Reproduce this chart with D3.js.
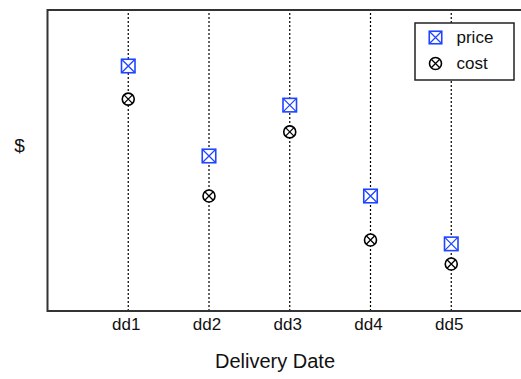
<!DOCTYPE html>
<html><head><meta charset="utf-8">
<script src="https://cdn.jsdelivr.net/npm/d3@7"></script>
<style>body{margin:0;background:#fff;} svg{display:block;}</style>
</head><body>
<script>
const categories = ["dd1","dd2","dd3","dd4","dd5"];
const priceValues = [81.4, 51.5, 68.4, 38.2, 22.3];
const costValues  = [70.4, 38.2, 59.5, 23.6, 15.6];
const seriesNames = ["price","cost"];

const W = 521, H = 379;
const FONT = "Liberation Sans, Arial, Helvetica, sans-serif";
const svg = d3.select("body").append("svg").attr("width",W).attr("height",H);

const x = d3.scaleLinear().domain([0, categories.length+1]).range([47.5, 532]);
const y = d3.scaleLinear().domain([0,100]).range([311, 10]);

const g = svg.append("g");

// gridlines
g.selectAll("line.grid").data(categories).join("line")
  .attr("x1",(d,i)=>x(i+1)).attr("x2",(d,i)=>x(i+1))
  .attr("y1",y(0)).attr("y2",y(100))
  .attr("stroke","#000").attr("stroke-width",1.2).attr("stroke-dasharray","2,2");

// axis tick labels
const xAxis = d3.axisBottom(x).tickValues(d3.range(1,categories.length+1))
  .tickFormat(d=>categories[d-1]).tickSize(0).tickPadding(7);
const ax = svg.append("g").attr("transform",`translate(0,${y(0)})`).call(xAxis);
ax.select(".domain").remove();
ax.selectAll("text").attr("font-family",FONT).attr("font-size",17).attr("fill","#111")
  .attr("dx","-0.15em");

// frame
svg.append("rect").attr("x",x(0)).attr("y",y(100)).attr("width",x(categories.length+1)-x(0)).attr("height",y(0)-y(100))
  .attr("fill","none").attr("stroke","#333").attr("stroke-width",2);

const blue = "#1f45ff";
function squareX(sel, s){
  sel.append("rect").attr("x",-s/2).attr("y",-s/2).attr("width",s).attr("height",s)
    .attr("fill","#fff").attr("stroke",blue).attr("stroke-width",1.6);
  sel.append("path").attr("d",`M${-s/2},${-s/2}L${s/2},${s/2}M${s/2},${-s/2}L${-s/2},${s/2}`)
    .attr("stroke",blue).attr("stroke-width",1.3);
}
function circleX(sel, r){
  sel.append("circle").attr("r",r).attr("fill","#fff").attr("stroke","#000").attr("stroke-width",1.6);
  const k = r*0.707;
  sel.append("path").attr("d",`M${-k},${-k}L${k},${k}M${k},${-k}L${-k},${k}`)
    .attr("stroke","#000").attr("stroke-width",1.3);
}

g.selectAll("g.price").data(priceValues).join("g")
  .attr("transform",(d,i)=>`translate(${x(i+1)},${y(d)})`)
  .each(function(){ squareX(d3.select(this),13.5); });
g.selectAll("g.cost").data(costValues).join("g")
  .attr("transform",(d,i)=>`translate(${x(i+1)},${y(d)})`)
  .each(function(){ circleX(d3.select(this),6); });

// legend
const lg = svg.append("g").attr("transform","translate(415,23)");
lg.append("rect").attr("width",99).attr("height",57).attr("fill","#fff").attr("stroke","#222").attr("stroke-width",1.5);
const l1 = lg.append("g").attr("transform","translate(20.5,14.5)"); squareX(l1,12.5);
const l2 = lg.append("g").attr("transform","translate(20.5,40.5)"); circleX(l2,6);
lg.selectAll("text").data(seriesNames).join("text")
  .attr("x",41.5).attr("y",(d,i)=>14.5+26*i).attr("dy","0.35em")
  .attr("font-family",FONT).attr("font-size",17).attr("fill","#111")
  .text(d=>d);

// axis titles
svg.append("text").attr("x",275).attr("y",361).attr("dy","0.35em").attr("text-anchor","middle")
  .attr("font-family",FONT).attr("font-size",20).attr("fill","#111").text("Delivery Date");
svg.append("text").attr("x",19.5).attr("y",145).attr("dy","0.35em").attr("text-anchor","middle")
  .attr("font-family",FONT).attr("font-size",19).attr("fill","#111").text("$");
</script>
</body></html>
